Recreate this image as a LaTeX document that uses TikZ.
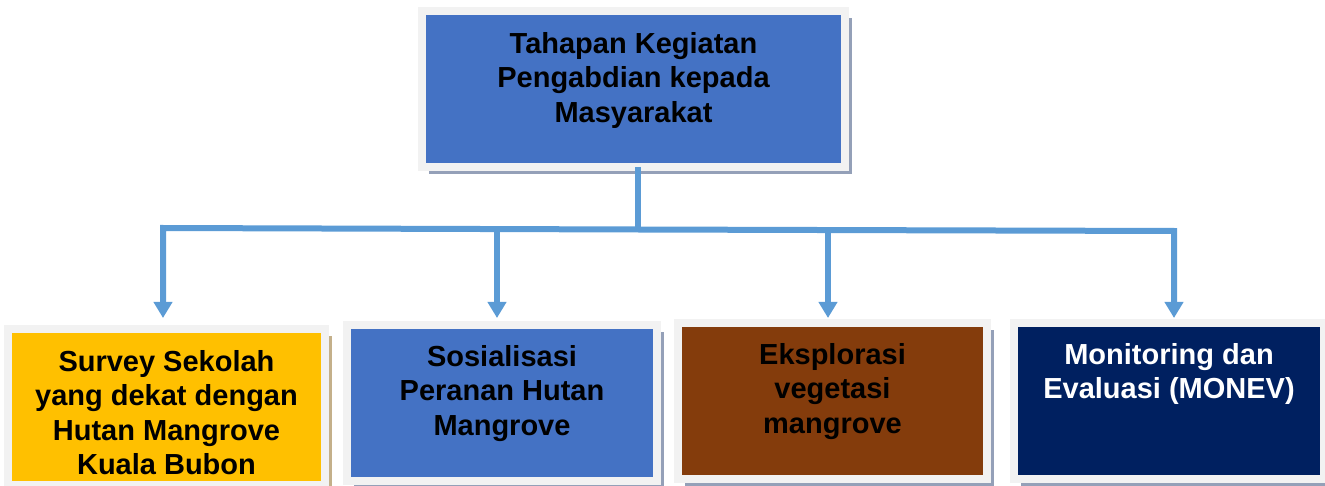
\documentclass[tikz,border=0pt]{standalone}
\usepackage{fontspec}
\setmainfont{Liberation Sans}
\usetikzlibrary{arrows.meta,shadows}

\definecolor{stepblue}{HTML}{4472C4}
\definecolor{stepgold}{HTML}{FFC000}
\definecolor{stepbrown}{HTML}{843C0C}
\definecolor{stepnavy}{HTML}{002060}
\definecolor{framegray}{HTML}{F2F2F2}
\definecolor{shadowblue}{HTML}{94A0B8}
\definecolor{shadowtan}{HTML}{C4B08A}
\definecolor{linkblue}{HTML}{5B9BD5}

\tikzset{
  stagebox/.style={draw=framegray, line width=8pt, outer sep=0pt, inner sep=0pt,
    minimum height=156pt},
  boxshadow/.style={drop shadow={shadow xshift=7pt, shadow yshift=-7pt,
    fill=#1, opacity=1}},
  stagetext/.style={anchor=north, inner sep=0pt, align=center,
    font=\fontsize{29}{34.5}\selectfont\bfseries},
  link/.style={draw=linkblue, line width=6pt},
  linktip/.style={-{Triangle[width=18pt,length=16pt]}}
}

\begin{document}
\begin{tikzpicture}[x=1pt,y=-1pt]
  \useasboundingbox (0,0) rectangle (1325,486);

  % boxes
  \node[stagebox, fill=stepblue, boxshadow=shadowblue, minimum width=423pt] (top) at (633.5,89) {};
  \node[stagebox, fill=stepgold, boxshadow=shadowtan, minimum width=317pt] (survey) at (166.5,407) {};
  \node[stagebox, fill=stepblue, boxshadow=shadowblue, minimum width=310pt] (sosial) at (502,403) {};
  \node[stagebox, fill=stepbrown, boxshadow=shadowblue, minimum width=309pt] (eksplor) at (832.5,401) {};
  \node[stagebox, fill=stepnavy, boxshadow=shadowblue, minimum width=310pt] (monev) at (1169,401) {};

  % texts
  \node[stagetext] (toptext) at ([yshift=-21pt]top.north)
    {Tahapan Kegiatan\\Pengabdian kepada\\Masyarakat};
  \node[stagetext] (surveytext) at ([yshift=-21pt]survey.north)
    {Survey Sekolah\\yang dekat dengan\\Hutan Mangrove\\Kuala Bubon};
  \node[stagetext] (sosialtext) at ([yshift=-20pt]sosial.north)
    {Sosialisasi\\Peranan Hutan\\Mangrove};
  \node[stagetext] (eksplortext) at ([yshift=-20pt]eksplor.north)
    {Eksplorasi\\vegetasi\\mangrove};
  \node[stagetext, text=white] (monevtext) at ([yshift=-20pt]monev.north)
    {Monitoring dan\\Evaluasi (MONEV)};

  % connectors
  \coordinate (hub) at (638,229.5);
  \coordinate (busL) at (163,228);
  \coordinate (busR) at (1174,231);
  \coordinate (bus2) at (497,229);
  \coordinate (bus3) at (828,230);
  \draw[link] ([xshift=4.5pt]top.south) -- (hub);
  \draw[link, linktip, shorten >=11pt] (hub) -- (busL) -- (busL |- survey.north);
  \draw[link, linktip, shorten >=5pt] (hub) -- (busR) -- (busR |- monev.north);
  \draw[link, linktip, shorten >=7pt] (bus2) -- (bus2 |- sosial.north);
  \draw[link, linktip, shorten >=5pt] (bus3) -- (bus3 |- eksplor.north);
\end{tikzpicture}
\end{document}
